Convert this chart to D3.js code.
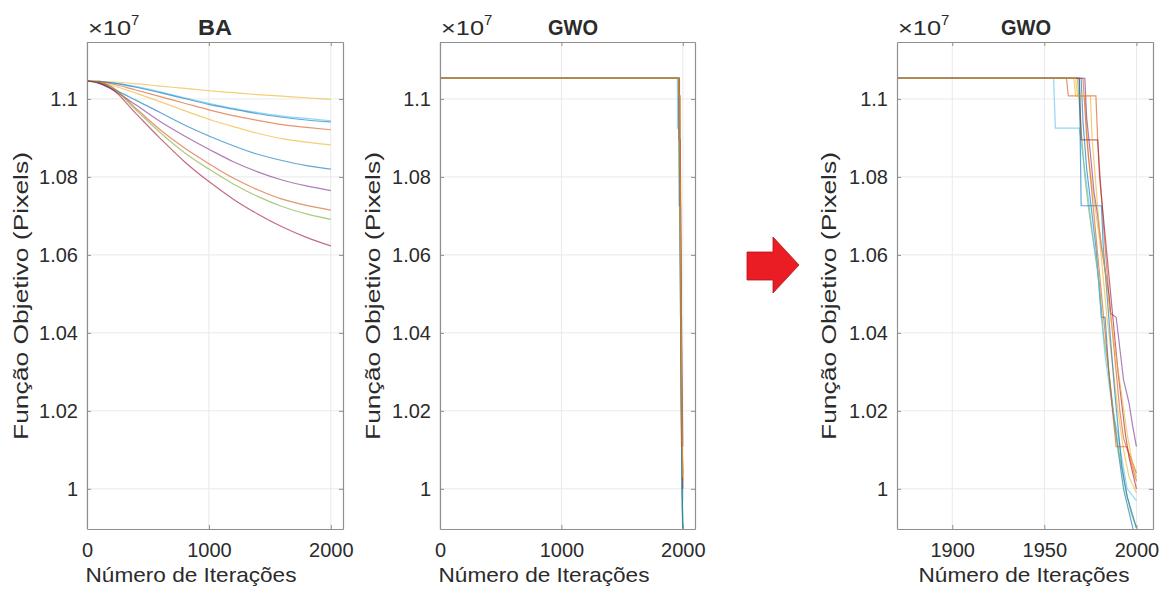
<!DOCTYPE html>
<html>
<head>
<meta charset="utf-8">
<script src="https://cdn.jsdelivr.net/npm/d3@7"></script>
<style>
  body { margin: 0; background: #fff; }
  svg { display: block; }
  text { font-family: "Liberation Sans", Arial, Helvetica, sans-serif; fill: #2b2b2b; }
</style>
</head>
<body>
<svg id="chart" width="1168" height="592"></svg>
<script>
// ---------- data (objective value, units of 1e7 pixels) ----------
const baIterations = [0, 100, 200, 400, 600, 800, 1000, 1200, 1400, 1600, 1800, 2000];

const baRun1  = [1.1046, 1.1045, 1.1044, 1.1039, 1.1033, 1.1027, 1.1021, 1.1016, 1.1011, 1.1007, 1.1003, 1.0999];
const baRun2  = [1.1046, 1.1045, 1.1042, 1.1032, 1.1018, 1.1003, 1.0989, 1.0976, 1.0965, 1.0956, 1.0950, 1.0944];
const baRun3  = [1.1046, 1.1045, 1.1041, 1.1030, 1.1016, 1.1001, 1.0986, 1.0974, 1.0962, 1.0953, 1.0946, 1.0941];
const baRun4  = [1.1046, 1.1044, 1.1039, 1.1023, 1.1006, 1.0989, 1.0972, 1.0957, 1.0945, 1.0934, 1.0927, 1.0921];
const baRun5  = [1.1046, 1.1042, 1.1035, 1.1015, 1.0993, 1.0970, 1.0948, 1.0929, 1.0912, 1.0898, 1.0889, 1.0882];
const baRun6  = [1.1046, 1.1040, 1.1027, 1.0997, 1.0965, 1.0933, 1.0905, 1.0880, 1.0858, 1.0842, 1.0829, 1.0820];
const baRun7  = [1.1046, 1.1040, 1.1025, 1.0985, 1.0942, 1.0905, 1.0871, 1.0839, 1.0813, 1.0792, 1.0777, 1.0765];
const baRun8  = [1.1046, 1.1043, 1.1032, 1.0976, 1.0921, 1.0874, 1.0834, 1.0797, 1.0767, 1.0743, 1.0727, 1.0715];
const baRun9  = [1.1046, 1.1042, 1.1030, 1.0972, 1.0914, 1.0862, 1.0820, 1.0782, 1.0750, 1.0724, 1.0705, 1.0691];
const baRun10 = [1.1046, 1.1041, 1.1027, 1.0963, 1.0899, 1.0839, 1.0788, 1.0743, 1.0705, 1.0672, 1.0645, 1.0623];
const baColorIndex = [2, 5, 0, 1, 2, 0, 3, 1, 4, 6];

// GWO runs: [iteration, best objective]
const gwoRun1  = [[1,1.1053],[1970,1.1053],[1971,1.094],[1973,1.082],[1975,1.074],[1978,1.062],[1980,1.050],[1981,1.044],[1983,1.044],[1985,1.030],[1987,1.021],[1990,1.010],[1993,1.000],[1996,0.994],[2000,0.986]];
const gwoRun2  = [[1,1.1053],[1962,1.1053],[1963,1.1008],[1978,1.1008],[1979,1.089],[1981,1.075],[1983,1.062],[1985,1.050],[1987,1.040],[1989,1.030],[1991,1.020],[1993,1.013],[1995,1.010],[1997,1.008],[2000,1.004]];
const gwoRun3  = [[1,1.1053],[1966,1.1053],[1967,1.1008],[1972,1.1008],[1974,1.085],[1977,1.074],[1980,1.064],[1982,1.054],[1984,1.044],[1987,1.032],[1990,1.020],[1993,1.010],[1996,1.003],[2000,0.999]];
const gwoRun4  = [[1,1.1053],[1972,1.1053],[1973,1.095],[1975,1.086],[1977,1.076],[1979,1.070],[1981,1.062],[1983,1.056],[1985,1.050],[1986,1.045],[1989,1.044],[1991,1.036],[1993,1.028],[1996,1.022],[1998,1.016],[2000,1.0108]];
const gwoRun5  = [[1,1.1053],[1968,1.1053],[1970,1.092],[1972,1.080],[1974,1.072],[1977,1.062],[1980,1.052],[1982,1.040],[1985,1.030],[1988,1.018],[1991,1.008],[1994,1.000],[1997,0.994],[2000,0.990]];
const gwoRun6  = [[1,1.1053],[1955,1.1053],[1956,1.0925],[1969,1.0925],[1971,1.085],[1973,1.078],[1976,1.066],[1979,1.056],[1981,1.044],[1983,1.034],[1986,1.024],[1988,1.018],[1990,1.014],[1992,1.008],[1995,1.000],[2000,0.997]];
const gwoRun7  = [[1,1.1053],[1969,1.1053],[1970,1.0895],[1979,1.0895],[1980,1.080],[1982,1.070],[1984,1.060],[1986,1.050],[1988,1.040],[1990,1.030],[1992,1.022],[1994,1.014],[1996,1.008],[2000,1.000]];
const gwoRun8  = [[1,1.1053],[1969,1.1053],[1970,1.0726],[1981,1.0726],[1982,1.062],[1984,1.050],[1986,1.038],[1988,1.026],[1990,1.016],[1992,1.006],[1995,0.998],[2000,0.990]];
const gwoRun9  = [[1,1.1053],[1971,1.1053],[1973,1.090],[1975,1.080],[1977,1.070],[1979,1.060],[1981,1.050],[1983,1.040],[1985,1.030],[1987,1.020],[1989,1.0108],[1995,1.0108],[1997,1.007],[2000,1.002]];
const gwoRun10 = [[1,1.1053],[1967,1.1053],[1968,1.1008],[1975,1.1008],[1976,1.0895],[1978,1.078],[1980,1.066],[1983,1.056],[1986,1.044],[1989,1.034],[1992,1.024],[1995,1.014],[1998,1.006],[2000,1.003]];

const yTicks = [1, 1.02, 1.04, 1.06, 1.08, 1.1];
const yTickLabels = ["1", "1.02", "1.04", "1.06", "1.08", "1.1"];
const xTicksFull = [0, 1000, 2000];
const xTicksZoom = [1900, 1950, 2000];
const lineColors = ["#0072BD", "#D95319", "#EDB120", "#7E2F8E", "#77AC30", "#4DBEEE", "#A2142F"];

const yLabel = "Função Objetivo (Pixels)";
const xLabel = "Número de Iterações";

// ---------- build series ----------
const baSeries = [baRun1, baRun2, baRun3, baRun4, baRun5, baRun6, baRun7, baRun8, baRun9, baRun10]
  .map((run, i) => ({ color: lineColors[baColorIndex[i]], points: run.map((v, k) => [baIterations[k], v]) }));
const gwoSeries = [gwoRun1, gwoRun2, gwoRun3, gwoRun4, gwoRun5, gwoRun6, gwoRun7, gwoRun8, gwoRun9, gwoRun10]
  .map((run, i) => ({ color: lineColors[i % lineColors.length], points: run }));

// ---------- layout ----------
const svg = d3.select("#chart");
const plotTop = 42, plotBottom = 529, yDomain = [0.9897, 1.1146];
const fontStack = '"Liberation Sans", Arial, sans-serif';

const panels = [
  { id: "ba",  left: 87,  right: 343,  xDomain: [0, 2100],    xTicks: xTicksFull, title: "BA",  titleW: 34, titleC: 215,  series: baSeries,  curve: d3.curveMonotoneX, ylabX: 21,  xlabC: 191 },
  { id: "gwo", left: 440, right: 695,  xDomain: [0, 2100],    xTicks: xTicksFull, title: "GWO", titleW: 50, titleC: 573,  series: gwoSeries, curve: d3.curveLinear,     ylabX: 373, xlabC: 544 },
  { id: "gwoz",left: 897, right: 1153, xDomain: [1870, 2009], xTicks: xTicksZoom, title: "GWO", titleW: 50, titleC: 1026, series: gwoSeries, curve: d3.curveLinear,     ylabX: 829, xlabC: 1024 }
];

panels.forEach(p => {
  const x = d3.scaleLinear().domain(p.xDomain).range([p.left, p.right]);
  const y = d3.scaleLinear().domain(yDomain).range([plotBottom, plotTop]);
  const g = svg.append("g");

  // grid
  g.append("g").selectAll("line").data(yTicks).join("line")
    .attr("x1", p.left).attr("x2", p.right)
    .attr("y1", d => y(d)).attr("y2", d => y(d))
    .attr("stroke", "#e9e9e9").attr("stroke-width", 1);
  g.append("g").selectAll("line").data(p.xTicks).join("line")
    .attr("x1", d => x(d)).attr("x2", d => x(d))
    .attr("y1", plotTop).attr("y2", plotBottom)
    .attr("stroke", "#e9e9e9").attr("stroke-width", 1);

  // lines
  g.append("clipPath").attr("id", "clip-" + p.id)
    .append("rect").attr("x", p.left).attr("y", plotTop)
    .attr("width", p.right - p.left).attr("height", plotBottom - plotTop);
  const line = d3.line().x(d => x(d[0])).y(d => y(d[1])).curve(p.curve);
  g.append("g").attr("clip-path", `url(#clip-${p.id})`)
    .selectAll("path").data(p.series).join("path")
    .attr("d", d => line(d.points))
    .attr("fill", "none")
    .attr("stroke", d => d.color)
    .attr("stroke-opacity", 0.62)
    .attr("stroke-width", 1.2);

  // axes (ticks point inward, box on all sides)
  const axisColor = "#8f8f8f";
  const leftAx = g.append("g").attr("transform", `translate(${p.left},0)`)
    .call(d3.axisLeft(y).tickValues(yTicks).tickFormat((d, i) => yTickLabels[i]).tickSizeInner(-4).tickSizeOuter(0).tickPadding(9));
  const botAx = g.append("g").attr("transform", `translate(0,${plotBottom})`)
    .call(d3.axisBottom(x).tickValues(p.xTicks).tickFormat(d3.format("d")).tickSizeInner(-4).tickSizeOuter(0).tickPadding(14));
  const rightAx = g.append("g").attr("transform", `translate(${p.right},0)`)
    .call(d3.axisRight(y).tickValues(yTicks).tickFormat("").tickSizeInner(-4).tickSizeOuter(0));
  const topAx = g.append("g").attr("transform", `translate(0,${plotTop})`)
    .call(d3.axisTop(x).tickValues(p.xTicks).tickFormat("").tickSizeInner(-4).tickSizeOuter(0));
  [leftAx, botAx, rightAx, topAx].forEach(a => {
    a.selectAll(".domain").attr("stroke", axisColor).attr("stroke-width", 1.2);
    a.selectAll(".tick line").attr("stroke", axisColor);
    a.selectAll("text").attr("fill", "#2b2b2b").style("font-size", "20px").style("font-family", fontStack);
  });

  // exponent label
  const ex = g.append("text").attr("x", p.left + 1).attr("y", 35).style("font-size", "21px");
  ex.append("tspan").attr("textLength", 43).attr("lengthAdjust", "spacingAndGlyphs").text("×10");
  ex.append("tspan").attr("dy", -10).style("font-size", "15px").text("7");

  // title
  g.append("text").attr("x", p.titleC).attr("y", 35)
    .attr("text-anchor", "middle").style("font-size", "22px").style("font-weight", "bold")
    .attr("textLength", p.titleW).attr("lengthAdjust", "spacingAndGlyphs")
    .text(p.title);

  // axis labels
  g.append("text").attr("x", p.xlabC).attr("y", 582)
    .attr("text-anchor", "middle").style("font-size", "21px")
    .attr("textLength", 211).attr("lengthAdjust", "spacingAndGlyphs").text(xLabel);
  g.append("text").attr("transform", `translate(${p.ylabX},296) rotate(-90)`)
    .attr("text-anchor", "middle").attr("dy", "0.35em").style("font-size", "21px")
    .attr("textLength", 288).attr("lengthAdjust", "spacingAndGlyphs").text(yLabel);
});

// arrow between the full and zoomed GWO views
svg.append("path")
  .attr("d", "M747,252 L773,252 L773,237 L799,265 L773,293 L773,280 L747,280 Z")
  .attr("fill", "#ea1d25").attr("stroke", "#b3121a").attr("stroke-width", 0.8);
</script>
</body>
</html>
